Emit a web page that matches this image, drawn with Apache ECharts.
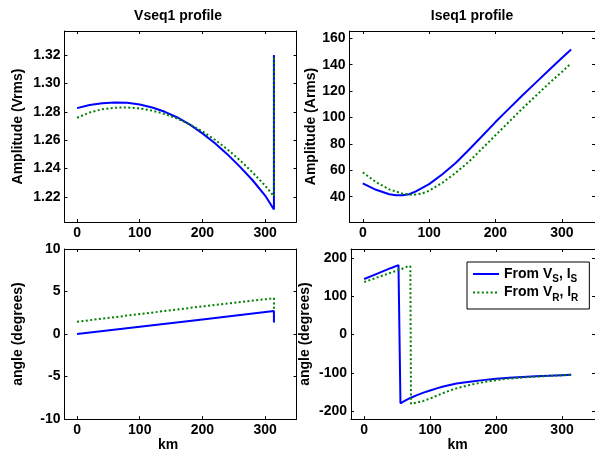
<!DOCTYPE html>
<html><head><meta charset="utf-8">
<script src="https://cdn.jsdelivr.net/npm/echarts@6/dist/echarts.min.js"></script>
<style>html,body{margin:0;padding:0;background:#fff}#c{width:595px;height:453px}</style>
</head><body><div id="c"></div><script>
// ---- data (km along the line) ----
const kmV   = [0,20,40,60,80,100,120,140,160,180,200,220,240,260,280,300,314,314];
const vAmpS = [1.2826,1.2848,1.2860,1.2866,1.2863,1.2851,1.2830,1.2800,1.2760,1.2710,1.2648,1.2578,1.2500,1.2412,1.2318,1.2210,1.2112,1.3200];
const vAmpR = [1.2758,1.2795,1.2818,1.2829,1.2831,1.2824,1.2808,1.2785,1.2752,1.2711,1.2662,1.2603,1.2535,1.2458,1.2373,1.2280,1.2205,1.3200];

const kmIS  = [0,20,40,50,60,70,80,100,120,140,160,180,200,220,240,260,280,300,314];
const iAmpS = [50,45.2,41.8,41,41,41.8,44,49.5,57,65.5,75.5,86,96.5,106.5,116.5,126,135.5,145,151.5];
const kmIR  = [0,20,40,60,75,90,100,120,140,160,180,200,220,240,260,280,300,314];
const iAmpR = [58.4,51,45.5,42.3,41.3,42.5,44.5,50.5,58,66.5,76.5,86.5,96.5,106.5,116,125.5,134.5,141];

const kmAV  = [0,100,200,314,314];
const angVS = [0,0.86,1.72,2.7,1.35];
const angVR = [1.45,2.35,3.25,4.2,2.9];

const kmAIS = [0,20,40,52,55,60,70,80,90,100,110,120,130,140,160,180,200,220,240,260,280,300,314];
const angIS = [145,159,173,181,-179,-174,-165,-157.5,-151,-145.5,-140,-135,-131,-127.5,-122.5,-118.5,-115,-112.5,-110.5,-108.5,-107,-105.5,-104.5];
const kmAIR = [0,20,40,60,65,70,71,80,90,100,110,120,130,140,160,180,200,220,240,260,280,300,314];
const angIR = [137,149,161,173,177,178,-180,-177,-172.5,-166.5,-159,-152,-145.5,-140,-131,-124,-118.5,-114.5,-111.5,-109.5,-107.5,-106,-104.5];

// ---- tick labels ----
const xTicks   = [0,100,200,300];
const yTicksV  = [1.22,1.24,1.26,1.28,1.30,1.32];
const yTicksI  = [40,60,80,100,120,140,160];
const yTicksAV = [-10,-5,0,5,10];
const yTicksAI = [-200,-100,0,100,200];

const titles = ['Vseq1 profile','Iseq1 profile'];
const yNames = ['Amplitude (Vrms)','Amplitude (Arms)','angle (degrees)','angle (degrees)'];
const legendNames = ['From VS, IS','From VR, IR'];

const FONT = '"Liberation Sans", Arial, Helvetica, sans-serif';
const BLUE = '#0000ff', GREEN = '#008000';

const grids = [
  {left:64.5, top:31, width:232, height:191},
  {left:349.5, top:31, width:250, height:191},
  {left:64.5, top:249, width:232, height:175},
  {left:351, top:249, width:249, height:175}
];
const yRanges = [[1.2024,1.3369],[20.8,165.5],[-10,10],[-220,223]];
const yTicks  = [yTicksV, yTicksI, yTicksAV, yTicksAI];
const yFmt = [v=>v.toFixed(2), v=>String(v), v=>String(v), v=>String(v)];
const yGaps = [39, 29, 39, 39];
const kmPad = [25, 31];

const xAxes = [], yAxes = [];
grids.forEach((g,i)=>{
  const base = {
    type:'value', gridIndex:i, splitLine:{show:false},
    axisLine:{show:true,onZero:false,lineStyle:{color:'#000',width:1}}
  };
  const lbl = {color:'#000',fontSize:14,fontWeight:'bold',fontFamily:FONT};
  const isBottom = i>=2;
  xAxes.push(Object.assign({}, base, {
    position:'bottom', min:-20, max:350,
    axisTick:{inside:true,length:3,customValues:xTicks,lineStyle:{color:'#000'}},
    axisLabel:Object.assign({customValues:xTicks,margin:4},lbl),
    name: isBottom ? 'km' : '', nameLocation:'middle', nameGap:15,
    nameTextStyle:{color:'#000',fontSize:14,fontWeight:'bold',fontFamily:FONT,padding:[0, isBottom?kmPad[i-2]:0,0,0]}
  }));
  xAxes.push(Object.assign({}, base, {
    position:'top', min:-20, max:350,
    axisTick:{inside:true,length:3,customValues:xTicks,lineStyle:{color:'#000'}},
    axisLabel:{show:false}
  }));
  yAxes.push(Object.assign({}, base, {
    position:'left', min:yRanges[i][0], max:yRanges[i][1],
    axisTick:{inside:true,length:3,customValues:yTicks[i],lineStyle:{color:'#000'}},
    axisLabel:Object.assign({customValues:yTicks[i],margin:4,formatter:yFmt[i]},lbl),
    name:yNames[i], nameLocation:'middle', nameGap:yGaps[i],
    nameTextStyle:{color:'#000',fontSize:14,fontWeight:'bold',fontFamily:FONT}
  }));
  yAxes.push(Object.assign({}, base, {
    position:'right', min:yRanges[i][0], max:yRanges[i][1],
    axisTick:{inside:true,length:3,customValues:yTicks[i],lineStyle:{color:'#000'}},
    axisLabel:{show:false}
  }));
});

const pairs = (xs, ys) => xs.map((x,k)=>[x, ys[k]]);
function mk(name, xs, ys, i, blue){
  return {
    type:'line', name:name, xAxisIndex:2*i, yAxisIndex:2*i,
    data:pairs(xs,ys), symbol:'none', showSymbol:false, animation:false,
    clip:true, z: blue?2:3,
    lineStyle: blue ? {color:BLUE,width:2} : {color:GREEN,width:2,type:[2,2.4],cap:'butt'},
    itemStyle:{color: blue?BLUE:GREEN}
  };
}

const series = [
  mk(legendNames[0], kmV, vAmpS, 0, true),  mk(legendNames[1], kmV, vAmpR, 0, false),
  mk(legendNames[0], kmIS, iAmpS, 1, true), mk(legendNames[1], kmIR, iAmpR, 1, false),
  mk(legendNames[0], kmAV, angVS, 2, true), mk(legendNames[1], kmAV, angVR, 2, false),
  mk(legendNames[0], kmAIS, angIS, 3, true),mk(legendNames[1], kmAIR, angIR, 3, false)
];

const chart = echarts.init(document.getElementById('c'), null, {renderer:'canvas'});
chart.setOption({
  backgroundColor:'#fff',
  animation:false,
  grid:grids,
  xAxis:xAxes,
  yAxis:yAxes,
  series:series,
  legend:{
    data:legendNames, orient:'vertical', left:467, top:262,
    backgroundColor:'#fff', borderColor:'#000', borderWidth:1,
    padding:[5,11,6,5], itemWidth:26, itemHeight:14, itemGap:1,
    selectedMode:false,
    itemStyle:{opacity:0},
    formatter: n => n===legendNames[0]
      ? '{t|From V}{s|S}{t|, I}{s|S}'
      : '{t|From V}{s|R}{t|, I}{s|R}',
    textStyle:{color:'#000',fontFamily:FONT,fontWeight:'bold',fontSize:14,
      rich:{
        t:{fontSize:14,fontWeight:'bold',fontFamily:FONT,color:'#000',lineHeight:21},
        s:{fontSize:10,fontWeight:'bold',fontFamily:FONT,color:'#000',lineHeight:10,verticalAlign:'bottom'}
      }}
  },
  graphic:[
    {type:'text',x:178,y:16,style:{text:titles[0],fontSize:14,fontWeight:'bold',fontFamily:FONT,fill:'#000',align:'center',verticalAlign:'middle'}},
    {type:'text',x:472,y:16,style:{text:titles[1],fontSize:14,fontWeight:'bold',fontFamily:FONT,fill:'#000',align:'center',verticalAlign:'middle'}}
  ]
});
</script></body></html>
